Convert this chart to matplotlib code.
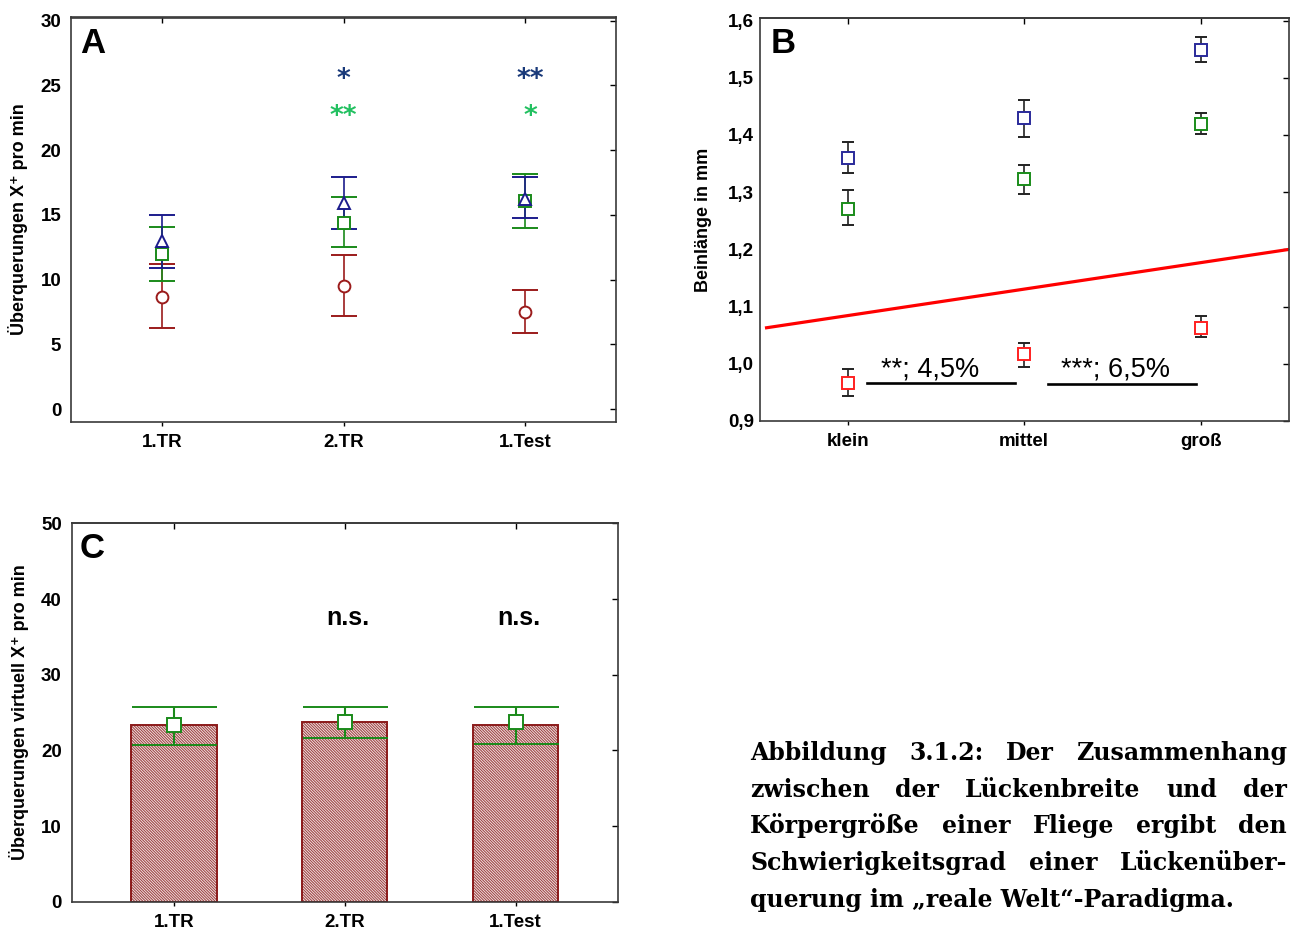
import matplotlib
matplotlib.use("Agg")
import matplotlib.pyplot as plt
import numpy as np

W, H = 1290, 933
plt.rcParams.update({"font.family": ["Liberation Sans", "DejaVu Sans"],
                     "hatch.linewidth": 0.8})

# ---- panel A: crossings per min (mean, lower, upper)
phases = ["1.TR", "2.TR", "1.Test"]
a_blue = [13.0, 15.9, 16.2]
a_blue_lo = [10.9, 13.9, 14.8]
a_blue_hi = [15.0, 17.9, 17.9]
a_green = [12.0, 14.4, 16.1]
a_green_lo = [9.9, 12.5, 14.0]
a_green_hi = [14.1, 16.4, 18.2]
a_red = [8.7, 9.5, 7.5]
a_red_lo = [6.3, 7.2, 5.9]
a_red_hi = [11.2, 11.9, 9.2]
a_stars_blue = ["", "*", "**"]
a_stars_green = ["", "**", "*"]

# ---- panel B: leg length in mm
sizes = ["klein", "mittel", "groß"]
b_blue = [1.359, 1.429, 1.549]
b_blue_lo = [1.333, 1.396, 1.527]
b_blue_hi = [1.387, 1.462, 1.571]
b_green = [1.271, 1.323, 1.420]
b_green_lo = [1.243, 1.297, 1.402]
b_green_hi = [1.303, 1.347, 1.438]
b_red = [0.966, 1.017, 1.063]
b_red_lo = [0.943, 0.994, 1.047]
b_red_hi = [0.991, 1.036, 1.083]
b_line_x = [-0.46, 2.5]
b_line_y = [1.063, 1.200]
b_notes = ["**; 4,5%", "***; 6,5%"]

# ---- panel C: virtual crossings per min
c_bars = [23.3, 23.7, 23.3]
c_mean = [23.3, 23.7, 23.7]
c_lo = [20.7, 21.6, 20.9]
c_hi = [25.8, 25.7, 25.7]
c_notes = ["", "n.s.", "n.s."]

caption = ["Abbildung 3.1.2: Der Zusammenhang",
           "zwischen der Lückenbreite und der",
           "Körpergröße einer Fliege ergibt den",
           "Schwierigkeitsgrad einer Lückenüber-",
           "querung im „reale Welt“-Paradigma."]

BLUE, GREEN, RED = "#1c1c8c", "#1a8a1a", "#9b1b1b"
TICK_FS = 13.5


def rect(l, r, t, b):
    return [l / W, 1 - b / H, (r - l) / W, (b - t) / H]


def frame(ax, xt, labels):
    ax.set_xticks(xt)
    ax.set_xticklabels(labels, fontsize=TICK_FS, fontweight="bold")
    ax.tick_params(axis="x", direction="out", length=3, width=1, pad=6)
    ax.tick_params(axis="y", left=False, right=True, direction="in",
                   length=4, width=1, labelsize=TICK_FS, pad=7)
    for lab in ax.get_yticklabels():
        lab.set_fontweight("bold")
    sec = ax.secondary_xaxis("top")
    sec.set_xticks(xt)
    sec.tick_params(direction="in", length=4, width=1, labeltop=False)
    for s in list(ax.spines.values()) + [sec.spines["top"]]:
        s.set_color("#3a3a3a")
        s.set_linewidth(1.2)


def err(ax, x, m, lo, hi, color, marker, ms, cap, ecolor=None, lw=1.2, mfc="white"):
    m = np.array(m)
    yerr = [m - np.array(lo), np.array(hi) - m]
    ax.errorbar(x, m, yerr=yerr, fmt=marker, color=color, ecolor=ecolor or color,
                ms=ms, mfc=mfc, mec=color, mew=1.4, elinewidth=lw,
                capsize=cap, capthick=lw, zorder=3)


fig = plt.figure(figsize=(W / 100, H / 100), dpi=100)

# ---------------- A
axA = fig.add_axes(rect(71, 616, 17.5, 421.5))
x = np.arange(len(phases))
err(axA, x, a_red, a_red_lo, a_red_hi, RED, "o", 8.5, 9.2)
err(axA, x, a_green, a_green_lo, a_green_hi, GREEN, "s", 8, 9.2)
err(axA, x, a_blue, a_blue_lo, a_blue_hi, BLUE, "^", 9, 9.2)
axA.set_xlim(-0.5, 2.5)
axA.set_ylim(-0.95, 30.25)
axA.set_yticks(range(0, 31, 5))
frame(axA, x, phases)
for i, (sb, sg) in enumerate(zip(a_stars_blue, a_stars_green)):
    xs = i + (0.03 if i == 2 else 0)
    axA.text(xs, 24.9, sb, ha="center", va="baseline", fontsize=19,
             color="#1a3a7a", family="DejaVu Sans", fontweight="bold")
    axA.text(xs, 22.05, sg, ha="center", va="baseline", fontsize=19,
             color="#22c060", family="DejaVu Sans", fontweight="bold")
axA.text(0.0165, 0.912, "A", transform=axA.transAxes, fontsize=25,
         fontweight="bold", va="baseline", ha="left")
axA.text(-0.097, 0.5, "Überquerungen X⁺ pro min", transform=axA.transAxes,
         rotation=90, ha="center", va="center", fontsize=13, fontweight="bold")

# ---------------- B
axB = fig.add_axes(rect(759.5, 1289, 18.3, 421))
xb = np.arange(len(sizes))
err(axB, xb, b_blue, b_blue_lo, b_blue_hi, "#2a2a9a", "s", 8, 4.3, ecolor="#222222")
err(axB, xb, b_green, b_green_lo, b_green_hi, "#1a8c1a", "s", 8, 4.3, ecolor="#222222")
err(axB, xb, b_red, b_red_lo, b_red_hi, "#ff2020", "s", 8, 4.3, ecolor="#222222")
axB.plot(b_line_x, b_line_y, color="#ff0000", lw=2.3, zorder=2)
axB.set_xlim(-0.5, 2.5)
axB.set_ylim(0.9, 1.604)
axB.set_yticks(np.arange(0.9, 1.61, 0.1))
axB.set_yticklabels([f"{v:.1f}".replace(".", ",") for v in np.arange(0.9, 1.61, 0.1)])
frame(axB, xb, sizes)
axB.tick_params(axis="y", pad=4)
axB.plot([0.108, 0.946], [0.967, 0.967], color="black", lw=1.9)
axB.plot([1.133, 1.971], [0.964, 0.964], color="black", lw=1.9)
axB.text(0.19, 0.977, b_notes[0], ha="left", va="baseline", fontsize=19.5)
axB.text(1.21, 0.977, b_notes[1], ha="left", va="baseline", fontsize=19.5)
axB.text(0.021, 0.914, "B", transform=axB.transAxes, fontsize=25,
         fontweight="bold", va="baseline", ha="left")
axB.text(-0.106, 0.5, "Beinlänge in mm", transform=axB.transAxes,
         rotation=90, ha="center", va="center", fontsize=13, fontweight="bold")

# ---------------- C
axC = fig.add_axes(rect(71.5, 618, 522.7, 901.7))
xc = np.arange(len(phases))
# hatch layer in a lighter red, then the dark outline on top
axC.bar(xc, c_bars, width=0.5, facecolor="#f7ecec", edgecolor="#a04848",
        hatch="\\" * 12, linewidth=0, zorder=2)
axC.bar(xc, c_bars, width=0.5, fill=False, edgecolor="#8b1a1a",
        linewidth=1.4, zorder=2)
err(axC, xc, c_mean, c_lo, c_hi, GREEN, "s", 10, 30.6, lw=1.5)
axC.set_xlim(-0.6, 2.6)
axC.set_ylim(0, 50.1)
axC.set_yticks(range(0, 51, 10))
frame(axC, xc, phases)
for i, t in enumerate(c_notes):
    axC.text(i + 0.02, 36.6, t, ha="center", va="baseline", fontsize=18,
             fontweight="bold")
axC.text(0.014, 0.907, "C", transform=axC.transAxes, fontsize=25,
         fontweight="bold", va="baseline", ha="left")
axC.text(-0.096, 0.5, "Überquerungen virtuell X⁺ pro min", transform=axC.transAxes,
         rotation=90, ha="center", va="center", fontsize=13, fontweight="bold")

# ---------------- caption (justified block)
r = fig.canvas.get_renderer()
cap_kw = dict(fontsize=17, fontweight="bold",
              family=["DejaVu Serif"], va="baseline")
x0, x1, y0, dy = 750, 1287, 760, 36.7
for i, line in enumerate(caption):
    y = 1 - (y0 + i * dy) / H
    if i == len(caption) - 1:
        fig.text(x0 / W, y, line, **cap_kw)
        continue
    words = line.split()
    ts = [fig.text(0, y, w, **cap_kw) for w in words]
    widths = [t.get_window_extent(r).width for t in ts]
    gap = (x1 - x0 - sum(widths)) / (len(words) - 1)
    xp = x0
    for t, w in zip(ts, widths):
        t.set_x(xp / W)
        xp += w + gap

fig.savefig("out.png", dpi=100)
